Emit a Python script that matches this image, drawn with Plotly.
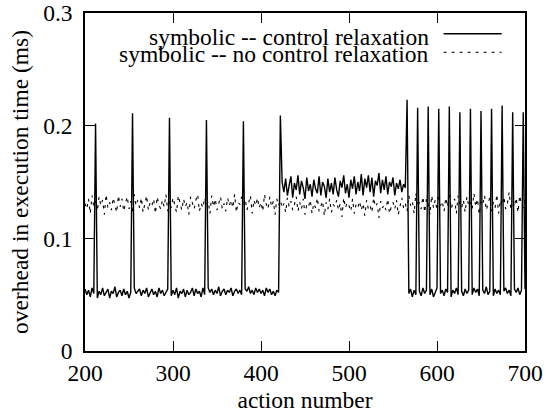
import plotly.graph_objects as go

# ---- data (values in microseconds) ----
actions = list(range(200, 701, 2))

control_relax_us = [
    55, 50, 54, 48, 56, 51, 202, 47, 53, 50,
    56, 49, 52, 55, 47, 53, 51, 57, 48, 52,
    54, 49, 55, 50, 53, 47, 52, 211, 56, 51,
    53, 55, 49, 54, 51, 56, 48, 52, 55, 50,
    53, 48, 56, 51, 54, 49, 52, 55, 207, 49,
    54, 50, 56, 47, 53, 51, 55, 48, 54, 50,
    52, 56, 49, 55, 51, 53, 48, 56, 50, 205,
    56, 52, 55, 50, 54, 51, 57, 49, 53, 55,
    50, 54, 52, 56, 49, 53, 55, 51, 54, 50,
    204, 55, 53, 57, 51, 54, 50, 56, 52, 55,
    51, 54, 49, 56, 52, 55, 50, 53, 49, 54,
    52, 209, 150, 141, 153, 138, 147, 155, 136, 149,
    143, 156, 139, 151, 145, 135, 154, 142, 148, 137,
    152, 144, 140, 155, 138, 150, 146, 136, 153, 141,
    149, 139, 154, 143, 137, 151, 145, 156, 140, 148,
    136, 152, 144, 155, 139, 150, 142, 157, 138, 153,
    145, 156, 141, 154, 137, 151, 147, 158, 140, 152,
    143, 155, 139, 150, 146, 154, 138, 149, 144, 152,
    141, 148, 145, 223, 51, 55, 48, 54, 50, 216,
    53, 49, 56, 51, 54, 217, 50, 55, 48, 53,
    56, 215, 51, 54, 49, 55, 52, 217, 48, 54,
    51, 56, 50, 212, 53, 49, 55, 51, 54, 215,
    50, 56, 52, 55, 49, 213, 54, 51, 57, 50,
    53, 215, 49, 55, 51, 54, 50, 218, 53, 56,
    51, 54, 49, 212, 55, 52, 56, 50, 54, 212,
    55,
]

no_control_relax_us = [
    131, 126, 135, 122, 138, 128, 133, 124, 137, 129,
    134, 121, 139, 127, 132, 125, 136, 130, 123, 138,
    128, 135, 124, 131, 137, 126, 133, 122, 139, 129,
    134, 127, 136, 123, 131, 138, 125, 132, 129, 135,
    122, 137, 130, 126, 134, 128, 139, 124, 133, 127,
    136, 129, 123, 138, 131, 125, 135, 128, 132, 121,
    137, 130, 126, 134, 139, 124, 131, 127, 136, 129,
    133, 122, 138, 128, 135, 125, 132, 137, 126, 131,
    124, 136, 129, 134, 127, 139, 123, 132, 130, 137,
    128, 135, 125, 131, 138, 122, 134, 129, 136, 127,
    132, 124, 139, 130, 126, 137, 128, 133, 121, 135,
    129, 134, 127, 131, 123, 136, 128, 133, 125, 130,
    137, 124, 132, 126, 135, 121, 130, 128, 134, 122,
    131, 127, 136, 124, 129, 133, 120, 132, 126, 135,
    123, 130, 128, 134, 125, 131, 119, 136, 127, 132,
    129, 124, 135, 122, 130, 127, 133, 125, 131, 120,
    134, 126, 129, 123, 136, 128, 131, 118, 133, 127,
    130, 125, 135, 122, 128, 132, 126, 134, 121, 129,
    136, 127, 131, 124, 138, 129, 133, 122, 140, 128,
    132, 126, 137, 123, 135, 130, 121, 138, 127, 134,
    125, 139, 129, 133, 124, 136, 128, 141, 126, 131,
    135, 122, 138, 130, 127, 134, 123, 137, 129, 132,
    126, 140, 128, 135, 121, 133, 130, 138, 125, 131,
    136, 124, 132, 127, 139, 122, 134, 129, 137, 126,
    131, 141, 125, 133, 128, 136, 123, 138, 130, 127,
    134,
]

series_names = [
    "symbolic -- control relaxation",
    "symbolic -- no control relaxation",
]
x_ticks = [200, 300, 400, 500, 600, 700]
y_ticks = [0, 0.1, 0.2, 0.3]
y_tick_labels = ["0", "0.1", "0.2", "0.3"]

FONT = "Liberation Serif"
FS = 23.5
DOT = "3px,5px"

fig = go.Figure()
fig.add_trace(go.Scatter(
    x=actions, y=[v / 1000 for v in control_relax_us], mode="lines",
    line=dict(color="black", width=1.4), name=series_names[0], showlegend=False))
fig.add_trace(go.Scatter(
    x=actions, y=[v / 1000 for v in no_control_relax_us], mode="lines",
    line=dict(color="black", width=1.1, dash=DOT), name=series_names[1], showlegend=False))

# legend drawn gnuplot-style: right-aligned text with the sample to its right
leg_rows = [(0.928, 0.9385, None, 1.4), (0.878, 0.884, DOT, 1.1)]
for name, (ty, ly, dash, w) in zip(series_names, leg_rows):
    fig.add_annotation(xref="paper", yref="paper", x=0.785, y=ty, text=name,
                       showarrow=False, xanchor="right", yanchor="middle",
                       borderpad=0,
                       font=dict(family=FONT, size=FS, color="black"))
    fig.add_shape(type="line", xref="paper", yref="paper", x0=0.815, x1=0.947,
                  y0=ly, y1=ly, line=dict(color="black", width=w, dash=dash))

axis_common = dict(showline=True, linecolor="black", linewidth=1.5, mirror="ticks",
                   ticks="inside", ticklen=10, tickwidth=1, tickcolor="black",
                   showgrid=False, zeroline=False, automargin=False,
                   tickfont=dict(family=FONT, size=FS, color="black"))
fig.update_xaxes(range=[200, 700], tickvals=x_ticks, ticklabelstandoff=0,
                 title=dict(text="action number", font=dict(family=FONT, size=FS, color="black"),
                            standoff=12),
                 **axis_common)
fig.update_yaxes(range=[0, 0.3], tickvals=y_ticks, ticktext=y_tick_labels,
                 ticklabelstandoff=6,
                 title=dict(text="overhead in execution time (ms)",
                            font=dict(family=FONT, size=FS, color="black"), standoff=8),
                 **axis_common)
fig.update_layout(width=547, height=413, margin=dict(l=85, r=22, t=13, b=62),
                  paper_bgcolor="white", plot_bgcolor="white",
                  font=dict(family=FONT, size=FS, color="black"))
fig.write_html("out.html", post_script="document.body.style.margin='0';",
               config={"displayModeBar": False})
